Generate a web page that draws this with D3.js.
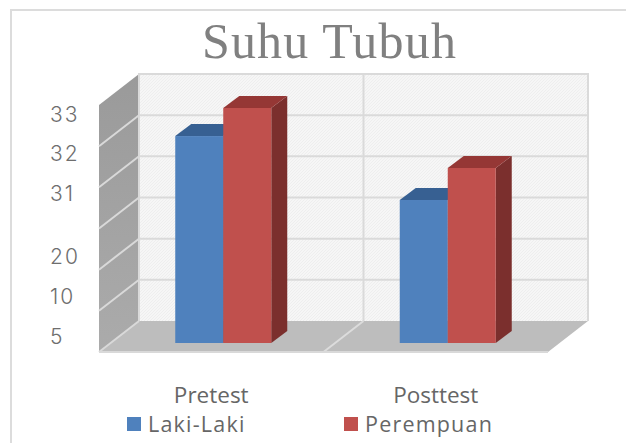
<!DOCTYPE html>
<html>
<head>
<meta charset="utf-8">
<script src="https://cdn.jsdelivr.net/npm/d3@7"></script>
<style>
  html, body { margin: 0; padding: 0; background: #fff; overflow: hidden; }
  svg { display: block; }
</style>
</head>
<body>
<svg id="chart" width="626" height="443"></svg>
<script>
var categories = ["Pretest", "Posttest"];
var seriesNames = ["Laki-Laki", "Perempuan"];
var lakiValues = [32.46, 29.95];
var perempuanValues = [33.18, 31.65];
var axisBase = 4.25;
var tickLabels = [5, 10, 20, 31, 32, 33];
var tickRows = [337, 297, 257, 194, 154, 115]; // labels are not evenly spaced in the picture
var gridSteps = [0, 1, 2, 3, 4, 5, 6];

var seriesColors = [
  {front: "#4f81bd", top: "#376092", side: "#2f5380"},
  {front: "#c0504d", top: "#953735", side: "#7b2f2d"}
];

var svg = d3.select("#chart");

// floor and wall corners
var left = 99, right = 548, floorFront = 352, floorBack = 321, wallTop = 74;
var depthX = 40, depthY = floorFront - floorBack;
var barDepthX = 16, barDepthY = 12, barShift = 12;

var x = d3.scaleBand().domain(categories).range([left, right]);
var xSeries = d3.scaleBand().domain(seriesNames).range([-48, 48]);
var y = d3.scaleLinear().domain(tickLabels).range(tickRows);
var grid = d3.scaleLinear().domain([0, 6]).range([floorBack, wallTop]);

var defs = svg.append("defs");
var hatch = defs.append("pattern")
  .attr("id", "wallHatch")
  .attr("width", 3).attr("height", 3)
  .attr("patternUnits", "userSpaceOnUse");
hatch.append("rect").attr("width", 3).attr("height", 3).attr("fill", "#f6f6f6");
hatch.append("path").attr("d", "M0,3L3,0").attr("stroke", "#eeeeee").attr("stroke-width", 1);

var sideGrad = defs.append("linearGradient").attr("id", "sideGrad")
  .attr("x1", 0).attr("y1", 0).attr("x2", 0).attr("y2", 1);
sideGrad.append("stop").attr("offset", "0%").attr("stop-color", "#9a9a9a");
sideGrad.append("stop").attr("offset", "100%").attr("stop-color", "#ababab");

function poly(points, fill) {
  return svg.append("polygon")
    .attr("points", points.map(function(p) { return p.join(","); }).join(" "))
    .attr("fill", fill);
}

// chart frame, only top and left show in the picture
svg.append("path")
  .attr("d", "M11,443V10H626")
  .attr("fill", "none")
  .attr("stroke", "#dcdcdc")
  .attr("stroke-width", 2);

// back wall
poly([[left + depthX, wallTop], [right + depthX, wallTop], [right + depthX, floorBack], [left + depthX, floorBack]], "url(#wallHatch)");
// side wall
poly([[left, wallTop + depthY], [left + depthX, wallTop], [left + depthX, floorBack], [left, floorFront]], "url(#sideGrad)");
// floor
poly([[left + depthX, floorBack], [right + depthX, floorBack], [right, floorFront], [left, floorFront]], "#bdbdbd");

// gridlines
gridSteps.forEach(function(g) {
  var gy = grid(g);
  if (g > 0) {
    svg.append("line")
      .attr("x1", left + depthX).attr("x2", right + depthX)
      .attr("y1", gy).attr("y2", gy)
      .attr("stroke", "#dadada").attr("stroke-width", 2);
    if (g < 6) {
      svg.append("line")
        .attr("x1", left).attr("x2", left + depthX)
        .attr("y1", gy + depthY).attr("y2", gy)
        .attr("stroke", "#d9d9d9").attr("stroke-width", 2);
    }
  }
});

var midX = x(categories[1]);
svg.append("line")
  .attr("x1", midX + depthX).attr("x2", midX + depthX)
  .attr("y1", wallTop).attr("y2", floorBack)
  .attr("stroke", "#dadada").attr("stroke-width", 2);
svg.append("line")
  .attr("x1", midX + depthX).attr("x2", midX)
  .attr("y1", floorBack).attr("y2", floorFront)
  .attr("stroke", "#dcdcdc").attr("stroke-width", 2);

// wall edges
svg.append("path")
  .attr("d", "M" + (left + depthX) + "," + floorBack + "V" + wallTop + "H" + (right + depthX) + "V" + floorBack)
  .attr("fill", "none").attr("stroke", "#dadada").attr("stroke-width", 2);
svg.append("line")
  .attr("x1", left).attr("x2", right)
  .attr("y1", floorFront).attr("y2", floorFront)
  .attr("stroke", "#d9d9d9").attr("stroke-width", 2);
svg.append("line")
  .attr("x1", left + depthX).attr("x2", left)
  .attr("y1", floorBack).attr("y2", floorFront)
  .attr("stroke", "#d9d9d9").attr("stroke-width", 2);

// bars, blue first so red overlaps it
function drawBar(category, name, value, colors) {
  var x0 = x(category) + x.bandwidth() / 2 + barShift + xSeries(name);
  var x1 = x0 + xSeries.bandwidth();
  var top = y(value), base = y(axisBase);
  poly([[x1, top], [x1 + barDepthX, top - barDepthY], [x1 + barDepthX, base - barDepthY], [x1, base]], colors.side);
  poly([[x0, top], [x1, top], [x1 + barDepthX, top - barDepthY], [x0 + barDepthX, top - barDepthY]], colors.top);
  svg.append("rect")
    .attr("x", x0).attr("y", top)
    .attr("width", x1 - x0).attr("height", base - top)
    .attr("fill", colors.front);
}

categories.forEach(function(c, i) {
  drawBar(c, seriesNames[0], lakiValues[i], seriesColors[0]);
  drawBar(c, seriesNames[1], perempuanValues[i], seriesColors[1]);
});

// value axis
var yAxis = svg.append("g")
  .attr("transform", "translate(50,0)")
  .call(d3.axisLeft(y).tickValues(tickLabels).tickSize(0).tickPadding(0));
yAxis.select(".domain").remove();
yAxis.selectAll("text")
  .attr("x", 0)
  .attr("text-anchor", "start")
  .attr("fill", "#6e6e6e")
  .style("font-family", "Inter, 'Open Sans', sans-serif")
  .style("font-size", "21px")
  .style("font-weight", "300")
  .style("letter-spacing", "2px");

// title
svg.append("text")
  .attr("x", 329.5).attr("y", 58)
  .attr("text-anchor", "middle")
  .attr("fill", "#808080")
  .style("font-family", "'Liberation Serif', serif")
  .style("font-size", "50px")
  .style("letter-spacing", "1.2px")
  .text("Suhu Tubuh");

// category labels
svg.selectAll(".cat")
  .data(categories)
  .enter().append("text")
  .attr("class", "cat")
  .attr("x", function(d) { return x(d) + x.bandwidth() / 2; })
  .attr("y", 402.5)
  .attr("text-anchor", "middle")
  .attr("fill", "#666")
  .style("font-family", "'Open Sans', sans-serif")
  .style("font-size", "22.5px")
  .text(function(d) { return d; });

// legend
var legendX = [127, 344];
seriesNames.forEach(function(name, i) {
  svg.append("rect")
    .attr("x", legendX[i]).attr("y", 417)
    .attr("width", 14).attr("height", 14)
    .attr("fill", seriesColors[i].front);
  svg.append("text")
    .attr("x", legendX[i] + 21).attr("y", 431.5)
    .attr("fill", "#666")
    .style("font-family", "'Open Sans', sans-serif")
    .style("font-size", "21.5px")
    .style("letter-spacing", "1.2px")
    .text(name);
});
</script>
</body>
</html>
